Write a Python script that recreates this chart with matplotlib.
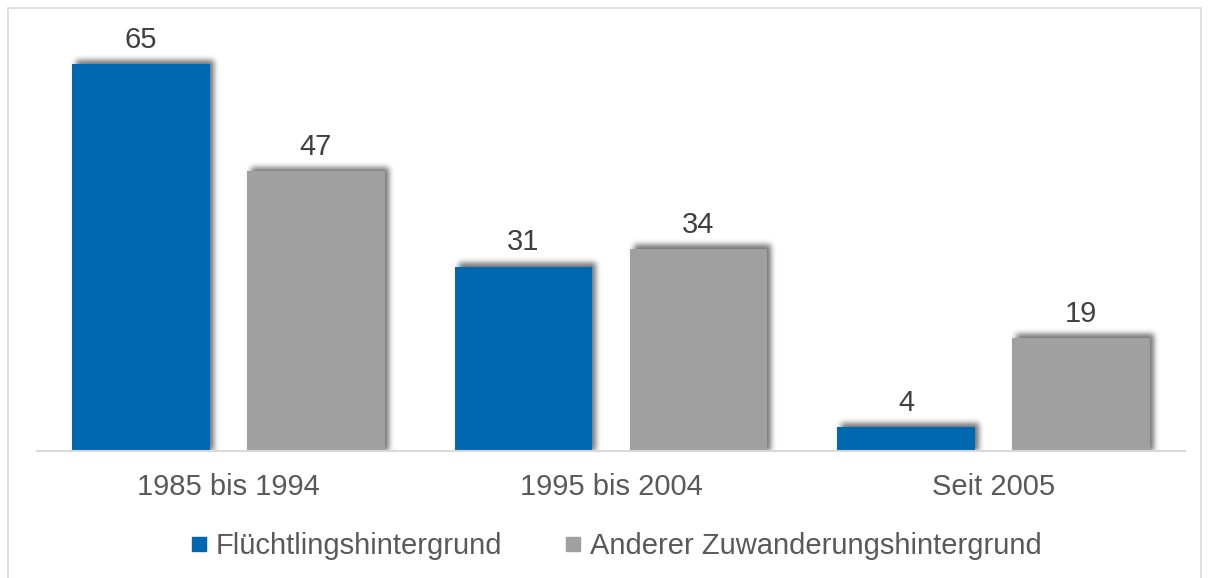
import matplotlib
matplotlib.use("Agg")
import matplotlib.pyplot as plt
from matplotlib.patches import Rectangle
from matplotlib.lines import Line2D
import numpy as np

plt.rcParams['font.family'] = ['Liberation Sans', 'DejaVu Sans']

categories = ["1985 bis 1994", "1995 bis 2004", "Seit 2005"]
series_names = ["Flüchtlingshintergrund", "Anderer Zuwanderungshintergrund"]
fluecht = [65, 31, 4]
anderer = [47, 34, 19]
colors = ["#0068B1", "#A0A0A0"]

W, H = 1209, 578
fig = plt.figure(figsize=(W / 100, H / 100), dpi=100)
fig.patch.set_facecolor("white")

ax_left, ax_right, ax_bottom_px, ax_top_px = 37, 1185, 451, 34.5
ax = fig.add_axes([ax_left / W, 1 - ax_bottom_px / H, (ax_right - ax_left) / W,
                   (ax_bottom_px - ax_top_px) / H])
XLIM = (-0.5, 2.5)
YLIM = (0, 70)
ax.set_xlim(*XLIM)
ax.set_ylim(*YLIM)

x = np.arange(len(categories))
off = 0.2285
w = 0.36
all_bars = []
for vals, c, sgn in ((fluecht, colors[0], -1), (anderer, colors[1], 1)):
    bars = ax.bar(x + sgn * off, vals, width=w, color=c, zorder=3)
    all_bars.extend(bars)
    for b, v in zip(bars, vals):
        ax.text(b.get_x() + b.get_width() / 2, v + 1.7, str(v), ha="center", va="bottom",
                fontsize=21, color="#404040", zorder=5)

# blurred drop shadow (offset up-right) computed from the bar geometry
nx = int(round(ax_right - ax_left))
ny = int(round(ax_bottom_px - ax_top_px))
mask = np.zeros((ny, nx))
sx, sy = 4, 4  # pixel offset
for b in all_bars:
    x0 = (b.get_x() - XLIM[0]) / (XLIM[1] - XLIM[0]) * nx + sx
    x1 = (b.get_x() + b.get_width() - XLIM[0]) / (XLIM[1] - XLIM[0]) * nx + sx
    y1 = b.get_height() / (YLIM[1] - YLIM[0]) * ny + sy
    mask[0:int(round(y1)), int(round(x0)):int(round(x1))] = 1.0
sigma = 2.8
r = np.arange(-10, 11)
k = np.exp(-r ** 2 / (2 * sigma ** 2))
k /= k.sum()
mask = np.apply_along_axis(lambda m: np.convolve(m, k, mode="same"), 1, mask)
mask = np.apply_along_axis(lambda m: np.convolve(m, k, mode="same"), 0, mask)
rgba = np.zeros((ny, nx, 4))
rgba[..., 3] = np.clip(mask, 0, 1) * 0.55
ax.imshow(rgba, extent=(XLIM[0], XLIM[1], YLIM[0], YLIM[1]), origin="lower",
          aspect="auto", interpolation="bilinear", zorder=2)

for s in ["top", "right", "left"]:
    ax.spines[s].set_visible(False)
ax.spines["bottom"].set_color("#D9D9D9")
ax.spines["bottom"].set_linewidth(1.5)
ax.spines["bottom"].set_zorder(4)
ax.set_yticks([])
ax.set_xticks(x)
ax.set_xticklabels(categories, fontsize=21, color="#595959")
ax.tick_params(axis="x", length=0, pad=16)

handles = [Line2D([0], [0], marker="s", linestyle="none", markersize=10.5,
                  markerfacecolor=c, markeredgecolor=c) for c in colors]
fig.legend(handles, series_names, loc="center", bbox_to_anchor=(616 / W, 1 - 546 / H),
           ncol=2, frameon=False, fontsize=21, labelcolor="#595959",
           handlelength=0.6, handletextpad=0.25, columnspacing=2.15)

fig.add_artist(Rectangle((8 / W, -0.05), (1201 - 8) / W, 1.05 - 8 / H,
                         transform=fig.transFigure, fill=False, edgecolor="#D9D9D9", linewidth=1.2))

fig.savefig("out.png", dpi=100, facecolor="white")
